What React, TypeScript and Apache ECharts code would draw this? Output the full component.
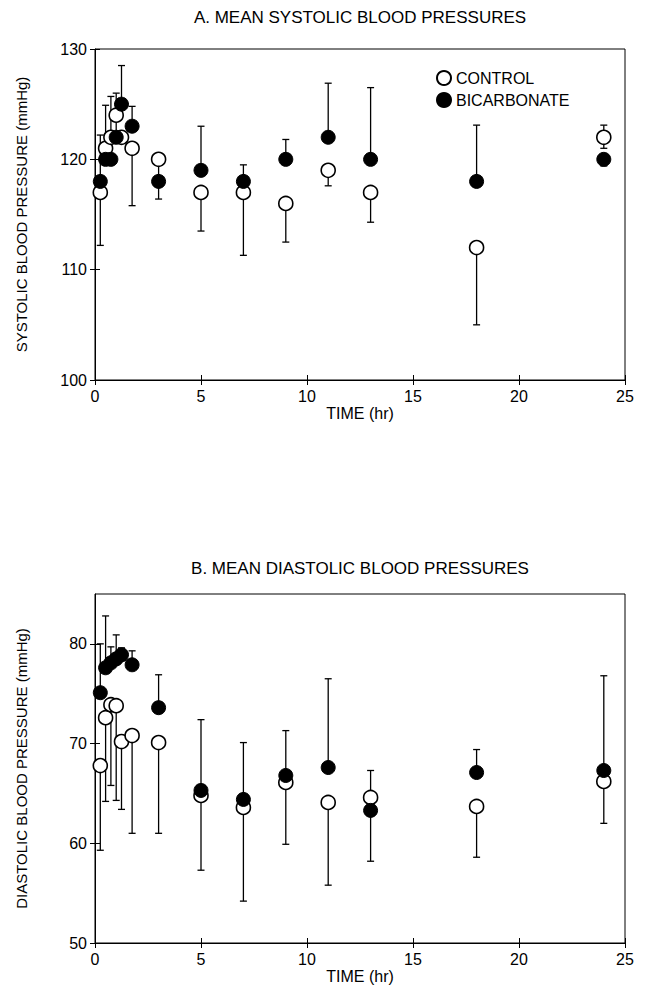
import React, { useEffect, useRef } from "react";
import * as echarts from "echarts";

// ---- data ----
const times = [0.25, 0.5, 0.75, 1, 1.25, 1.75, 3, 5, 7, 9, 11, 13, 18, 24];
const timeTicks = [0, 5, 10, 15, 20, 25];
const sysTicks = [100, 110, 120, 130];
const diaTicks = [50, 60, 70, 80];

// Panel A: systolic
const sysControl = [117, 121, 122, 124, 122, 121, 120, 117, 117, 116, 119, 117, 112, 122];
const sysControlLow = [112.2, null, null, null, null, 115.8, null, 113.5, 111.3, 112.5, 117.6, 114.3, 105, 121];
const sysControlHigh = [null, null, null, null, null, null, null, null, null, null, null, null, null, 123.1];
const sysBicarb = [118, 120, 120, 122, 125, 123, 118, 119, 118, 120, 122, 120, 118, 120];
const sysBicarbLow = [null, null, null, null, null, null, 116.4, null, null, null, null, null, null, 119.4];
const sysBicarbHigh = [122.2, 124.9, 125.7, 126, 128.5, 124.8, 119.6, 123, 119.5, 121.8, 126.9, 126.5, 123.1, null];

// Panel B: diastolic
const diaControl = [67.8, 72.6, 73.9, 73.8, 70.2, 70.8, 70.1, 64.8, 63.6, 66.1, 64.1, 64.6, 63.7, 66.2];
const diaControlLow = [59.3, 64.2, 65.8, 64.3, 63.4, 61, 61, 57.3, 54.2, 59.9, 55.8, null, 58.6, 62];
const diaControlHigh = [null, null, null, null, null, null, null, null, null, null, null, 67.3, null, null];
const diaBicarb = [75.1, 77.6, 78.1, 78.5, 78.9, 77.9, 73.6, 65.3, 64.4, 66.8, 67.6, 63.3, 67.1, 67.3];
const diaBicarbLow = [null, null, null, null, null, null, null, null, null, null, null, 58.2, null, null];
const diaBicarbHigh = [80, 82.8, 79.7, 80.9, 79.6, 79.3, 76.9, 72.4, 70.1, 71.3, 76.5, null, 69.4, 76.8];

const FONT = "'Liberation Sans', Arial, sans-serif";

function pts(vals: number[]) {
  return times.map((t, i) => [t, vals[i]]);
}
function errs(vals: number[], low: (number | null)[], high: (number | null)[]) {
  return times
    .map((t, i) => [t, low[i] ?? vals[i], high[i] ?? vals[i]])
    .filter((d) => d[1] !== d[2]);
}

const renderErr = (params: any, api: any) => {
  const x = api.value(0);
  const p1 = api.coord([x, api.value(1)]);
  const p2 = api.coord([x, api.value(2)]);
  const c = 3.5;
  const st = { stroke: "#000", lineWidth: 1.3 };
  return {
    type: "group",
    children: [
      { type: "line", shape: { x1: p1[0], y1: p1[1], x2: p2[0], y2: p2[1] }, style: st },
      { type: "line", shape: { x1: p1[0] - c, y1: p1[1], x2: p1[0] + c, y2: p1[1] }, style: st },
      { type: "line", shape: { x1: p2[0] - c, y1: p2[1], x2: p2[0] + c, y2: p2[1] }, style: st },
    ],
  };
};

function xAxes(grid: number) {
  const base = {
    type: "value",
    gridIndex: grid,
    min: 0,
    max: 25,
    interval: 5,
    position: "bottom",
    splitLine: { show: false },
  };
  return [
    {
      ...base,
      axisLine: { show: true, onZero: false, lineStyle: { color: "#000", width: 1 } },
      axisTick: { show: true, length: 5, lineStyle: { color: "#000" }, customValues: timeTicks },
      axisLabel: { show: true, color: "#000", fontSize: 16, fontFamily: FONT, margin: 8, customValues: timeTicks },
      name: "TIME (hr)",
      nameLocation: "middle",
      nameGap: 25,
      nameTextStyle: { color: "#000", fontSize: 16, fontFamily: FONT },
    },
    {
      ...base,
      axisLine: { show: false, onZero: false },
      axisTick: { show: true, inside: true, length: 5, lineStyle: { color: "#000" }, customValues: timeTicks },
      axisLabel: { show: false },
    },
  ];
}

function yAxes(grid: number, min: number, max: number, ticks: number[], name: string) {
  const base = {
    type: "value",
    gridIndex: grid,
    min,
    max,
    interval: 10,
    position: "left",
    splitLine: { show: false },
  };
  return [
    {
      ...base,
      axisLine: { show: true, onZero: false, lineStyle: { color: "#000", width: 1 } },
      axisTick: { show: true, length: 5, lineStyle: { color: "#000" }, customValues: ticks },
      axisLabel: { show: true, color: "#000", fontSize: 16, fontFamily: FONT, margin: 8, customValues: ticks },
      name,
      nameLocation: "middle",
      nameGap: 66,
      nameRotate: 90,
      nameTextStyle: { color: "#000", fontSize: 15, fontFamily: FONT },
    },
    {
      ...base,
      axisLine: { show: false, onZero: false },
      axisTick: { show: true, inside: true, length: 5, lineStyle: { color: "#000" }, customValues: ticks },
      axisLabel: { show: false },
    },
  ];
}

const openStyle = { color: "#fff", borderColor: "#000", borderWidth: 1.6, opacity: 1 };
const filledStyle = { color: "#000", borderColor: "#000", borderWidth: 1, opacity: 1 };
const MS = 14;

export default function App() {
  const ref = useRef<HTMLDivElement>(null);
  useEffect(() => {
    if (!ref.current) return;
    const chart = echarts.init(ref.current, null, { renderer: "svg" });
    const option: any = {
      animation: false,
      textStyle: { fontFamily: FONT, color: "#000" },
      graphic: [
        {
          type: "text",
          x: 360,
          y: 17,
          style: {
            text: "A. MEAN SYSTOLIC BLOOD PRESSURES",
            align: "center",
            verticalAlign: "middle",
            font: `17px ${FONT}`,
            fill: "#000",
          },
        },
        {
          type: "text",
          x: 360,
          y: 568,
          style: {
            text: "B. MEAN DIASTOLIC BLOOD PRESSURES",
            align: "center",
            verticalAlign: "middle",
            font: `17px ${FONT}`,
            fill: "#000",
          },
        },
      ],
      legend: {
        data: ["CONTROL", "BICARBONATE"],
        orient: "vertical",
        left: 436,
        top: 70,
        itemWidth: 14,
        itemHeight: 14,
        itemGap: 6,
        itemTextGap: 3,
        padding: 0,
        icon: "circle",
        textStyle: { color: "#000", fontSize: 16, fontFamily: FONT },
      },
      grid: [
        { left: 95, top: 49, width: 530, height: 331, show: true, borderColor: "#000", borderWidth: 1 },
        { left: 95, top: 594, width: 530, height: 349, show: true, borderColor: "#000", borderWidth: 1 },
      ],
      xAxis: [...xAxes(0), ...xAxes(1)],
      yAxis: [
        ...yAxes(0, 100, 130, sysTicks, "SYSTOLIC BLOOD PRESSURE (mmHg)"),
        ...yAxes(1, 50, 85, diaTicks, "DIASTOLIC BLOOD PRESSURE (mmHg)"),
      ],
      series: [
        { type: "custom", name: "err-a-control", xAxisIndex: 0, yAxisIndex: 0, renderItem: renderErr, encode: { x: 0, y: [1, 2] }, data: errs(sysControl, sysControlLow, sysControlHigh), z: 1 },
        { type: "custom", name: "err-a-bicarb", xAxisIndex: 0, yAxisIndex: 0, renderItem: renderErr, encode: { x: 0, y: [1, 2] }, data: errs(sysBicarb, sysBicarbLow, sysBicarbHigh), z: 1 },
        { type: "scatter", name: "CONTROL", xAxisIndex: 0, yAxisIndex: 0, symbol: "circle", symbolSize: MS, itemStyle: openStyle, data: pts(sysControl), z: 3 },
        { type: "scatter", name: "BICARBONATE", xAxisIndex: 0, yAxisIndex: 0, symbol: "circle", symbolSize: MS, itemStyle: filledStyle, data: pts(sysBicarb), z: 4 },
        { type: "custom", name: "err-b-control", xAxisIndex: 2, yAxisIndex: 2, renderItem: renderErr, encode: { x: 0, y: [1, 2] }, data: errs(diaControl, diaControlLow, diaControlHigh), z: 1 },
        { type: "custom", name: "err-b-bicarb", xAxisIndex: 2, yAxisIndex: 2, renderItem: renderErr, encode: { x: 0, y: [1, 2] }, data: errs(diaBicarb, diaBicarbLow, diaBicarbHigh), z: 1 },
        { type: "scatter", name: "CONTROL", xAxisIndex: 2, yAxisIndex: 2, symbol: "circle", symbolSize: MS, itemStyle: openStyle, data: pts(diaControl), z: 3 },
        { type: "scatter", name: "BICARBONATE", xAxisIndex: 2, yAxisIndex: 2, symbol: "circle", symbolSize: MS, itemStyle: filledStyle, data: pts(diaBicarb), z: 4 },
      ],
    };
    chart.setOption(option);
    return () => chart.dispose();
  }, []);
  return <div ref={ref} style={{ position: "absolute", left: 0, top: 0, width: 647, height: 985, background: "#fff" }} />;
}
